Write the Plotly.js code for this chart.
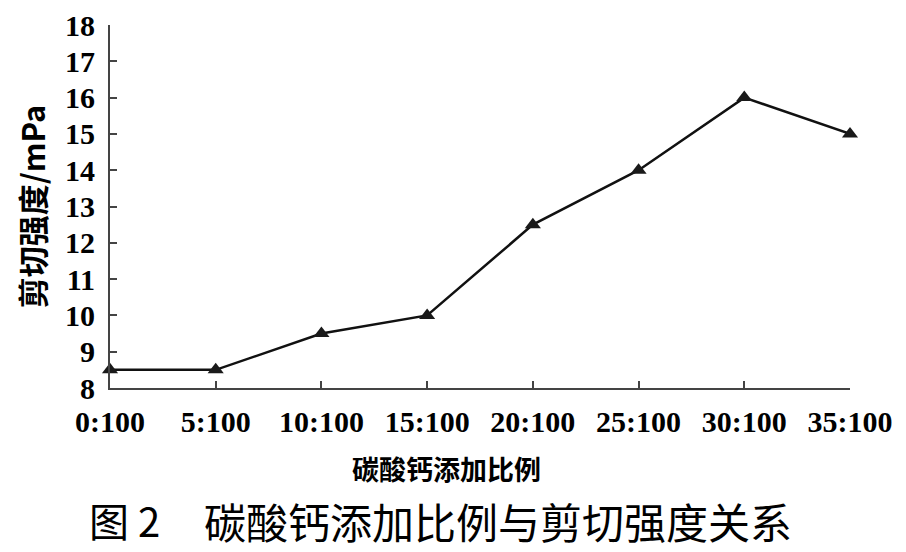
<!DOCTYPE html>
<html>
<head>
<meta charset="utf-8">
<script src="https://cdn.plot.ly/plotly-3.0.1.min.js"></script>
<style>html,body{margin:0;padding:0;background:#fff;}#chart{width:906px;height:552px;}</style>
</head>
<body>
<div id="chart"></div>
<script>
const categories = ["0:100", "5:100", "10:100", "15:100", "20:100", "25:100", "30:100", "35:100"];
const shearStrength = [8.5, 8.5, 9.5, 10, 12.5, 14, 16, 15];
const yTicks = [8, 9, 10, 11, 12, 13, 14, 15, 16, 17, 18];
const xTitle = "碳酸钙添加比例";
const yTitle = "剪切强度/mPa";
const captionLabel = "图 2";
const captionText = "碳酸钙添加比例与剪切强度关系";

const serif = "'Liberation Serif', 'Times New Roman', serif";
const cjk = "'Noto Sans CJK SC', sans-serif";

const trace = {
  x: categories,
  y: shearStrength,
  type: "scatter",
  mode: "lines+markers",
  line: {color: "#111", width: 2.5},
  marker: {symbol: "triangle-up", size: 14, color: "#1a1a1a"},
  cliponaxis: false,
  hoverinfo: "x+y"
};

const layout = {
  width: 906,
  height: 552,
  margin: {l: 110, r: 56, t: 25, b: 164},
  paper_bgcolor: "#fff",
  plot_bgcolor: "#fff",
  showlegend: false,
  xaxis: {
    type: "category",
    range: [0, categories.length - 1],
    showgrid: false,
    zeroline: false,
    showline: true,
    linecolor: "#444",
    linewidth: 2,
    ticks: "inside",
    ticklen: 7,
    tickwidth: 2,
    tickcolor: "#444",
    tickfont: {family: serif, size: 30, color: "#000", weight: "bold"},
    ticklabelstandoff: 6
  },
  yaxis: {
    range: [8, 18],
    tickvals: yTicks,
    showgrid: false,
    zeroline: false,
    showline: true,
    linecolor: "#444",
    linewidth: 2,
    ticks: "inside",
    ticklen: 7,
    tickwidth: 2,
    tickcolor: "#444",
    tickfont: {family: serif, size: 30, color: "#000", weight: "bold"},
    ticklabelstandoff: 7,
    title: {text: yTitle, font: {family: cjk, size: 31, color: "#000", weight: "bold"}, standoff: 10}
  },
  annotations: [
    {text: xTitle, xref: "paper", yref: "paper", x: (446 - 110) / 740, y: (388 - 468) / 363,
     xanchor: "center", yanchor: "middle", showarrow: false,
     font: {family: cjk, size: 27, color: "#000", weight: "bold"}},
    {text: captionLabel, xref: "paper", yref: "paper", x: (88 - 110) / 740, y: (388 - 520) / 363,
     xanchor: "left", yanchor: "middle", showarrow: false, borderpad: 0,
     font: {family: cjk, size: 40, color: "#000"}},
    {text: captionText, xref: "paper", yref: "paper", x: (203 - 110) / 740, y: (388 - 520) / 363,
     xanchor: "left", yanchor: "middle", showarrow: false, borderpad: 0,
     font: {family: cjk, size: 42, color: "#000"}}
  ]
};

Plotly.newPlot("chart", [trace], layout, {displayModeBar: false, staticPlot: true});
</script>
</body>
</html>
